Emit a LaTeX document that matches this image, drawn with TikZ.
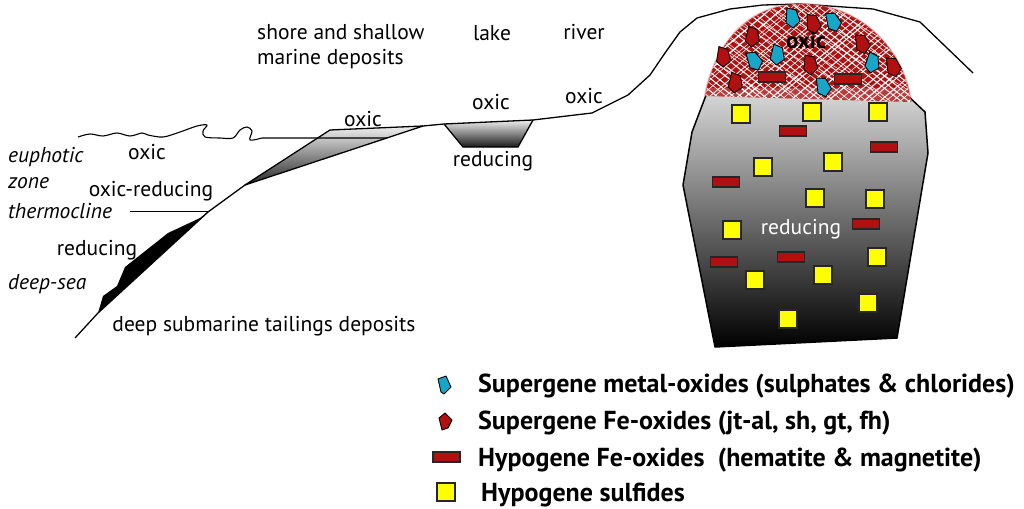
\documentclass[tikz,border=0pt]{standalone}
\usepackage{fontspec}
\setmainfont{PT Sans}
\usetikzlibrary{calc}
\definecolor{capred}{RGB}{176,16,16}
\definecolor{gemblue}{RGB}{24,166,200}
\definecolor{sqyellow}{RGB}{255,255,0}
\tikzset{
  lbl/.style={font=\fontsize{21.5}{24}\selectfont, inner sep=0pt, anchor=base},
  lblw/.style={lbl, anchor=base west},
  lbli/.style={font=\fontsize{21.5}{24}\selectfont\itshape, inner sep=0pt, anchor=base west},
  leg/.style={font=\fontsize{26}{28}\selectfont\bfseries, inner sep=0pt, anchor=base west},
  terrain/.style={line width=1.3pt, black, line join=round},
  hyporect/.style={draw=black!85, line width=1.1pt, fill=capred},
  sulf/.style={draw=black!85, line width=1.1pt, fill=sqyellow},
  gem/.style={draw=black, line width=0.9pt, line join=round},
  hatch/.style={white, line width=0.9pt},
}
\newcommand\gemat[4]{\draw[gem, fill=#4, shift={(#1,#2)}, rotate=#3] (-5,-10)--(4,-8)--(8,3)--(1,10)--(-6,5)--cycle;}
\newcommand\hrect[2]{\draw[hyporect] ({#1-13.5},{#2-5}) rectangle ({#1+13.5},{#2+5});}
\newcommand\sqat[2]{\draw[sulf] ({#1-9},{#2-9}) rectangle ({#1+9},{#2+9});}
\begin{document}
\begin{tikzpicture}[x=1pt,y=-1pt]
\useasboundingbox (0,0) rectangle (1024,508);
\fill[white] (0,0) rectangle (1024,508);

% ---------- shore wedge ----------
\shade[top color=gray!12, bottom color=black!85] (245,185) -- (330,130) -- (423,126) -- cycle;
\draw[terrain] (245,185) -- (330,130) -- (423,126);

% ---------- lake basin ----------
\shade[top color=gray!12, bottom color=black!90] (444,124) -- (463,147) -- (518,147) -- (533,120) -- cycle;
\draw[terrain] (444,124) -- (463,147) -- (518,147) -- (533,120);

% ---------- deep-sea deposit ----------
\fill[black] (208,212) -- (200,218) -- (168,233) -- (125,267) -- (117,286) -- (103,296) -- (98,313) -- cycle;

% ---------- terrain profile ----------
\draw[terrain] (75,338) -- (98,313) -- (208,212) -- (245,185) -- (423,126) -- (444,124) -- (533,120) -- (592,113)
  -- (628,95) -- (650,75) -- (665,53) -- (680,32) -- (697,18) -- (730,9) -- (763,5) -- (800,4) -- (873,9) -- (920,22) -- (973,73);

% ---------- sea surface ----------
\draw[line width=1.1pt, line join=round] plot[smooth, tension=0.55] coordinates {(78,137) (90,134) (103,136) (117,133) (130,136) (142,133) (148,135) (163,137) (180,132) (197,126) (207,125) (203,131) (205,137) (220,138) (233,138) (240,130) (247,127) (252,131) (250,140) (262,138)} -- (387,138);
\draw[line width=0.9pt] (130,211) -- (208,211);

% ---------- orebody (reducing) ----------
\shade[top color=gray!30, bottom color=black] (708,90) -- (907,95) -- (925,112) -- (928,153) -- (897,338) -- (715,347) -- (683,185) -- (692,132) -- cycle;
\draw[line width=1.5pt, line join=round] (708,90) -- (907,95) -- (925,112) -- (928,153) -- (897,338) -- (715,347) -- (683,185) -- (692,132) -- cycle;

% ---------- oxic cap ----------
\begin{scope}
  \clip (705,96) .. controls (712,55) and (740,5) .. (800,4) .. controls (860,3) and (905,50) .. (911,102) -- cycle;
  \fill[capred] (690,0) rectangle (920,110);
  \pgfmathsetseed{11}
  \foreach \c in {560,568,...,950} {
    \pgfmathsetmacro\d{\c+rnd*5}
    \pgfmathsetmacro\w{0.5+rnd*0.8}
    \draw[hatch, line width=\w pt] ({\d-150},-117) -- ({\d+150},117);
  }
  \foreach \c in {660,668,...,1060} {
    \pgfmathsetmacro\d{\c+rnd*5}
    \pgfmathsetmacro\w{0.5+rnd*0.8}
    \draw[hatch, line width=\w pt] ({\d+150},-126) -- ({\d-150},126);
  }
  \foreach \c in {600,630,...,1000} {
    \pgfmathsetmacro\d{\c+rnd*12}
    \draw[hatch, line width=0.5pt] ({\d-150},-90) -- ({\d+150},90);
  }
  \fill[white, opacity=0.18] (690,88) rectangle (920,110);
\end{scope}
\draw[capred!70, opacity=0.35, line width=2pt] (705,96) .. controls (712,55) and (740,5) .. (800,4) .. controls (860,3) and (905,50) .. (911,102);

% supergene minerals in cap
\gemat{792}{18}{0}{gemblue}
\gemat{833}{22}{15}{gemblue}
\gemat{777}{55}{-10}{gemblue}
\gemat{754}{61}{20}{gemblue}
\gemat{872}{63}{-15}{gemblue}
\gemat{823}{87}{10}{gemblue}
\gemat{813}{24}{5}{capred}
\gemat{752}{37}{-10}{capred}
\gemat{862}{44}{10}{capred}
\gemat{723}{57}{-5}{capred}
\gemat{810}{65}{0}{capred}
\gemat{893}{67}{10}{capred}
\gemat{735}{83}{-10}{capred}
\hrect{772}{77}
\hrect{848}{79}
\node[font=\fontsize{23}{26}\selectfont\bfseries, inner sep=0pt, anchor=base] (capoxic) at (806,49) {oxic};

% hypogene minerals in body
\sqat{741}{114} \sqat{812}{112} \sqat{878}{112}
\sqat{763}{167} \sqat{833}{162}
\sqat{815}{198} \sqat{875}{199}
\sqat{732}{230}
\sqat{877}{257}
\sqat{755}{280} \sqat{823}{275}
\sqat{868}{303}
\sqat{788}{319}
\hrect{793}{131}
\hrect{884}{147}
\hrect{726}{182}
\hrect{866}{224}
\hrect{724}{262}
\hrect{791}{257}
\node[lbl, text=white] (bodyred) at (801,234) {reducing};

% ---------- labels ----------
\node[lbli] (euph) at (8,162) {euphotic};
\node[lbli] (zone) at (8,188) {zone};
\node[lbli] (thermo) at (8,218) {thermocline};
\node[lbli] (deepsea) at (8,289) {deep-sea};
\node[lbl] (seaoxic) at (147,159) {oxic};
\node[lbl] (oxred) at (151,196) {oxic-reducing};
\node[lbl] (redleft) at (97,255) {reducing};
\node[lbl] (dstd) at (264,331) {deep submarine tailings deposits};
\node[lblw] (shore1) at (257,40) {shore and shallow};
\node[lblw] (shore2) at (257,65) {marine deposits};
\node[lbl] (lake) at (492,41) {lake};
\node[lbl] (river) at (584,40) {river};
\node[lbl] (shoreoxic) at (363,126) {oxic};
\node[lbl] (lakeoxic) at (491,110) {oxic};
\node[lbl] (riveroxic) at (584,103) {oxic};
\node[lbl] (lakered) at (493,166) {reducing};

% ---------- legend ----------
\draw[gem, fill=gemblue] (438,379) -- (446,376) -- (451,387) -- (444,394) -- (441,392) -- cycle;
\draw[gem, fill=capred] (439,418) -- (445,413) -- (452,420) -- (448,428) -- (442,430) -- cycle;
\draw[hyporect] (433,452) rectangle (460,462);
\draw[sulf] (437,483) rectangle (455,501);
\node[leg] (leg1) at (478,392) {Supergene metal-oxides (sulphates \& chlorides)};
\node[leg] (leg2) at (478,429) {Supergene Fe-oxides (jt-al, sh, gt, fh)};
\node[leg] (leg3) at (478,466) {Hypogene Fe-oxides\ \ (hematite \& magnetite)};
\node[leg] (leg4) at (481,501) {Hypogene sulfides};
\end{tikzpicture}
\end{document}
